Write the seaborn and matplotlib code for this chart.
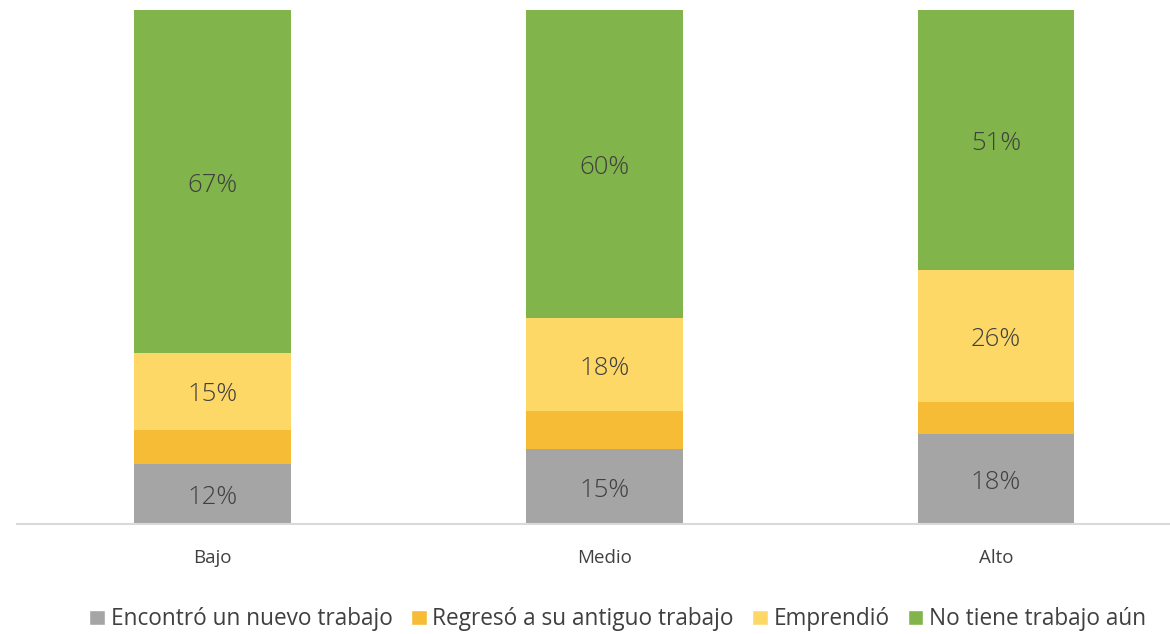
import matplotlib
matplotlib.use("Agg")
import matplotlib.pyplot as plt
from matplotlib.patches import Patch
import numpy as np
import pandas as pd
import seaborn as sns

niveles = ["Bajo", "Medio", "Alto"]
series = ["Encontró un nuevo trabajo", "Regresó a su antiguo trabajo", "Emprendió", "No tiene trabajo aún"]
encontro = [11.7, 14.6, 17.5]
regreso = [6.6, 7.4, 6.2]
emprendio = [15.0, 18.1, 25.7]
no_tiene = [66.7, 59.9, 50.6]
colores = ["#A5A5A5", "#F6BC35", "#FED866", "#81B54B"]

sns.set_theme(style="white")
plt.rcParams["font.family"] = ["Open Sans", "DejaVu Sans"]

fig = plt.figure(figsize=(11.7, 6.34), dpi=100)
ax = fig.add_axes([17 / 1170, 1 - 524 / 634, (1170 - 17) / 1170, 514 / 634])

valores = [encontro, regreso, emprendio, no_tiene]
bottom = np.zeros(len(niveles))
for nombre, vals, col in zip(series, valores, colores):
    df = pd.DataFrame({"nivel": niveles, "valor": vals})
    sns.barplot(data=df, x="nivel", y="valor", color=col, width=0.4,
                bottom=bottom, ax=ax, saturation=1, linewidth=0)
    if nombre != "Regresó a su antiguo trabajo":
        for i, v in enumerate(vals):
            ax.text(i, bottom[i] + v / 2 - 0.7, f"{v:.0f}%", ha="center", va="center",
                    fontsize=18.5, color="#404040", fontweight="light", zorder=5)
    bottom = bottom + np.array(vals)

ax.set_xlim(-0.5, 2.5 - 21.75 / 391.5)
ax.set_ylim(0, 100)
ax.set_xlabel("")
ax.set_ylabel("")
ax.set_yticks([])
ax.tick_params(axis="x", length=0, pad=18, labelsize=13.5, labelcolor="#404040")
for s in ["top", "right", "left"]:
    ax.spines[s].set_visible(False)
ax.spines["bottom"].set_color("#D9D9D9")
ax.spines["bottom"].set_linewidth(1.5)

handles = [Patch(facecolor=c, label=n) for n, c in zip(series, colores)]
fig.legend(handles=handles, loc="lower center", bbox_to_anchor=(0.528, -0.028), ncol=4,
           frameon=False, fontsize=16.3, handlelength=0.7, handleheight=0.7,
           handletextpad=0.25, columnspacing=0.8, labelcolor="#404040")

fig.savefig("out.png", dpi=100)
